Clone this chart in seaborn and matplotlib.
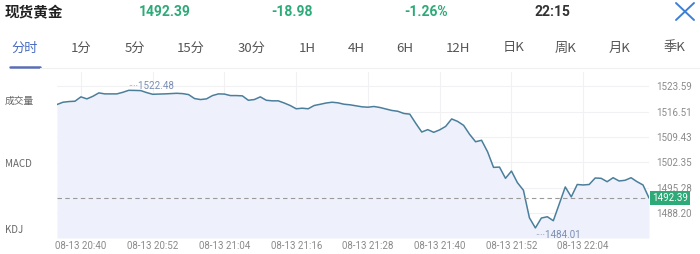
import numpy as np
import pandas as pd
import seaborn as sns
import matplotlib.pyplot as plt
from matplotlib.lines import Line2D

# ---------------- data ----------------
title = "现货黄金"
last_price = 1492.39
change = "-18.98"
change_pct = "-1.26%"
clock = "22:15"
tabs = ["分时", "1分", "5分", "15分", "30分", "1H", "4H", "6H", "12H", "日K", "周K", "月K", "季K"]
side_labels = ["成交量", "MACD", "KDJ"]

prices = [
    1518.51, 1519.15, 1519.34, 1519.43, 1520.65, 1520.09, 1520.81, 1521.76, 1521.48, 1521.48,
    1521.48, 1521.92, 1522.48, 1522.45, 1522.40, 1521.84, 1521.37, 1521.43, 1521.48, 1521.56,
    1521.65, 1521.56, 1521.29, 1520.18, 1519.90, 1520.09, 1521.01, 1521.48, 1521.43, 1521.01,
    1521.01, 1520.93, 1519.70, 1519.90, 1520.65, 1519.70, 1519.54, 1519.54, 1518.93, 1518.23,
    1517.32, 1517.48, 1517.32, 1518.23, 1518.57, 1518.93, 1519.15, 1518.98, 1518.59, 1518.43,
    1518.15, 1517.87, 1517.76, 1517.96, 1517.68, 1517.26, 1516.85, 1516.62, 1516.01, 1515.82,
    1513.24, 1510.82, 1511.49, 1510.74, 1511.43, 1512.40, 1514.48, 1513.79, 1512.68, 1510.18,
    1508.10, 1508.52, 1505.32, 1500.94, 1501.02, 1497.88, 1499.91, 1496.66, 1494.55, 1486.86,
    1484.01, 1486.78, 1487.14, 1486.03, 1490.75, 1495.47, 1492.69, 1496.16, 1496.02, 1496.16,
    1497.97, 1497.88, 1496.94, 1498.05, 1497.14, 1497.33, 1498.05, 1496.94, 1496.02, 1492.39,
]
times = pd.date_range("2019-08-13 20:36", periods=len(prices), freq="min")
tick_times = ["20:40", "20:52", "21:04", "21:16", "21:28", "21:40", "21:52", "22:04"]
tick_labels = ["08-13 " + t for t in tick_times]
y_ticks = [1523.59, 1516.51, 1509.43, 1502.35, 1495.28, 1488.20]

df = pd.DataFrame({"idx": np.arange(len(prices)), "price": prices,
                   "hm": times.strftime("%H:%M")})

# ---------------- style ----------------
sns.set_theme(style="white")
plt.rcParams["font.family"] = ["Roboto", "Noto Sans CJK SC", "DejaVu Sans"]
cjk = ["Noto Sans CJK SC", "DejaVu Sans"]

W, H = 700, 254
fig = plt.figure(figsize=(7.0, 2.54), dpi=100)

def fx(px):
    return px / W

def fy(py):
    return 1 - py / H

# ---------------- header ----------------
green = "#2daa78"
fig.text(fx(5), fy(12), title, family=cjk, fontsize=10.5, fontweight="bold",
         color="#222222", ha="left", va="center")
fig.text(fx(165), fy(12), f"{last_price:.2f}", fontsize=10, fontweight="bold",
         color=green, ha="center", va="center")
fig.text(fx(292), fy(12), change, fontsize=10, fontweight="bold",
         color=green, ha="center", va="center")
fig.text(fx(426), fy(12), change_pct, fontsize=10, fontweight="bold",
         color=green, ha="center", va="center")
fig.text(fx(552), fy(12), clock, fontsize=10, fontweight="bold",
         color="#333333", ha="center", va="center")
# close icon
for (x0, y0, x1, y1) in [(676, 3, 694, 20), (676, 20, 694, 3)]:
    fig.add_artist(Line2D([fx(x0), fx(x1)], [fy(y0), fy(y1)], color="#3d7fd6", lw=1.4,
                          transform=fig.transFigure))

# tabs
tab_x = [25, 81, 135, 191, 252, 307, 356, 405, 458, 514, 566, 620, 674]
for lbl, x in zip(tabs, tab_x):
    fig.text(fx(x), fy(48), lbl, family=cjk, fontsize=9.5,
             color="#4a6cc0" if lbl == "分时" else "#555555", ha="center", va="center")
fig.add_artist(Line2D([fx(10), fx(40)], [fy(66.5), fy(66.5)], color="#5b6db8", lw=1.8,
                      transform=fig.transFigure))
fig.add_artist(Line2D([fx(40), fx(700)], [fy(68), fy(68)], color="#f0f0f0", lw=0.8,
                      transform=fig.transFigure))

# side labels
for lbl, y in zip(side_labels, [101, 164, 230]):
    fig.text(fx(5), fy(y), lbl, family=cjk, fontsize=7, color="#666666",
             ha="left", va="center")

# ---------------- chart ----------------
ax = fig.add_axes([fx(57), fy(238), fx(649 - 57), (238 - 72) / H])
ymin, ymax = 1481.2, 1527.6
ax.fill_between(df["idx"], df["price"], ymin, color="#eef1fb", lw=0)
sns.lineplot(data=df, x="idx", y="price", ax=ax, color="#4a7e9b", lw=1.1)
ax.set_xlim(0, len(prices) - 1)
ax.set_ylim(ymin, ymax)

xt = [int(df.index[df["hm"] == t][0]) for t in tick_times]
ax.set_xticks(xt)
ax.set_xticklabels(tick_labels)
ax.set_yticks(y_ticks)
ax.set_yticklabels([f"{v:.2f}" for v in y_ticks])
ax.yaxis.tick_right()
ax.tick_params(axis="both", length=0, labelsize=7, colors="#8a8a8a")
ax.tick_params(axis="x", pad=2)
ax.tick_params(axis="y", pad=5)
ax.grid(True, color="#f1f1f4", lw=0.8)
ax.set_axisbelow(True)
for s in ax.spines.values():
    s.set_visible(False)
ax.set_xlabel("")
ax.set_ylabel("")

# reference dashed line at last price
ax.axhline(last_price, color="#9a9a9a", lw=0.8, ls=(0, (4, 3)))
ax.text(1.005, last_price, f"{last_price:.2f}", transform=ax.get_yaxis_transform(),
        fontsize=7, color="white", ha="left", va="center",
        bbox=dict(boxstyle="square,pad=0.2", fc=green, ec="none"))

# max / min annotations
imax = int(np.argmax(prices))
imin = int(np.argmin(prices))
ax.annotate(f"····{prices[imax]:.2f}", xy=(df["idx"][imax], prices[imax]),
            xytext=(0, 3), textcoords="offset points", fontsize=7,
            color="#7b8db3", ha="left", va="center")
ax.annotate(f"····{prices[imin]:.2f}", xy=(df["idx"][imin], prices[imin]),
            xytext=(0, -5), textcoords="offset points", fontsize=7,
            color="#7b8db3", ha="left", va="center")

fig.savefig("out.png", dpi=100)
